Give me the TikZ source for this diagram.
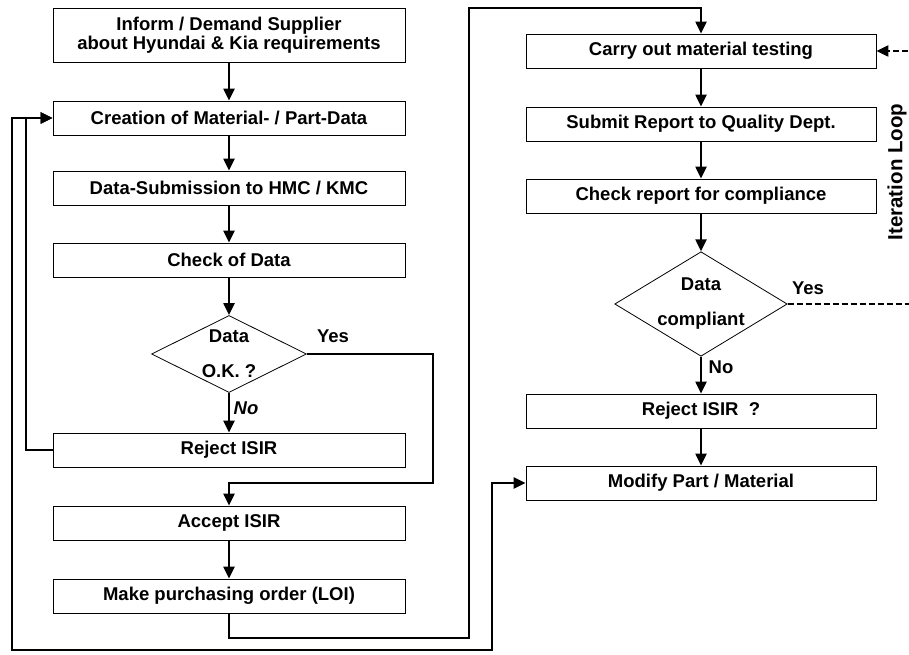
\documentclass[tikz,border=0pt]{standalone}
\usepackage{fontspec}
\setmainfont{Liberation Sans}
\usetikzlibrary{arrows.meta, graphs, shapes.geometric}

\begin{document}
\begin{tikzpicture}[
                    x=1pt, y=-1pt,
                    ->,
                    >={Triangle[length=12pt, width=11pt]},
                    line width=2.2pt,
                    font=\fontsize{18.5}{19}\selectfont\bfseries,
                    box/.style={draw, -, line width=0.8pt, minimum width=352pt,
                                minimum height=34pt, inner sep=0pt, align=center},
                    decision/.style={draw, -, line width=0.8pt, diamond,
                                inner sep=0pt, align=center},
                ]
                \path[-, use as bounding box, clip] (0,0) rectangle (909,655);

                \node[box, minimum height=54pt] (inf) at (229,35)
                    {Inform / Demand Supplier\\about Hyundai \& Kia requirements};
                \node[box] (cre) at (229,118) {Creation of Material- / Part-Data};
                \node[box] (sub) at (229,188) {Data-Submission to HMC / KMC};
                \node[box] (chk) at (229,260) {Check of Data};
                \node[decision, aspect=2, minimum width=155pt, minimum height=77pt]
                    (ok) at (229,354) {Data\\[16pt]O.K. ?};
                \node[box] (rej) at (229,450) {Reject ISIR};
                \node[box] (acc) at (229,523) {Accept ISIR};
                \node[box] (loi) at (229,596) {Make purchasing order (LOI)};

                \node[box, minimum width=350pt] (car) at (701,51) {Carry out material testing};
                \node[box, minimum width=350pt] (rep) at (701,124) {Submit Report to Quality Dept.};
                \node[box, minimum width=350pt] (cmp) at (701,196) {Check report for compliance};
                \node[decision, aspect=1.65, minimum width=168pt, minimum height=102pt]
                    (cpl) at (701,304) {Data\\[16pt]compliant};
                \node[box, minimum width=350pt] (rjq) at (701,411) {Reject ISIR~~?};
                \node[box, minimum width=350pt] (mod) at (701,483) {Modify Part / Material};

                \node (yesA) at (333,336) {Yes};
                \node (noA) at (246,408) {\itshape No};
                \node (yesB) at (808,288) {Yes};
                \node (noB) at (721,367) {No};
                \node[rotate=90, font=\fontsize{20.5}{20}\selectfont\bfseries] (loop) at (897,172)
                    {Iteration Loop};

                \graph[use existing nodes]{
                    inf -> cre -> sub -> chk -> ok -> rej ;
                    acc -> loi ;
                    car -> rep -> cmp -> cpl -> rjq -> mod ;
                } ;

                \draw (ok.east) -| (433,483) -| (acc.north);
                \draw (loi.south) |- (469,638) |- (701,8) -- (car.north);
                \draw[<->] (cre.west) -| (12,650) -| (492,483) -- (mod.west);
                \draw (rej.west) -| (26,118) -- (cre.west);
                \draw[dash pattern=on 6pt off 3pt] (cpl.east) -| (915,51) -- (car.east);
            \end{tikzpicture}
\end{document}
